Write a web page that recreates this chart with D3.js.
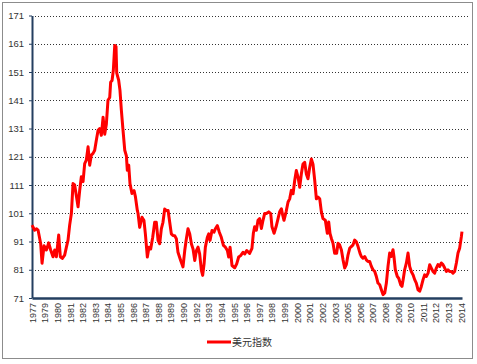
<!DOCTYPE html>
<html>
<head>
<meta charset="utf-8">
<script src="https://cdn.jsdelivr.net/npm/d3@7"></script>
<style>
  body { margin: 0; background: #fff; }
  text { font-family: "Liberation Sans", Arial, sans-serif; }
</style>
</head>
<body>
<svg id="chart" width="477" height="364"></svg>
<script>
// y axis ticks
var yTicks = [71, 81, 91, 101, 111, 121, 131, 141, 151, 161, 171];

// category labels on x axis (every 13 months, starting Dec 1977)
var xTickLabels = ["1977","1979","1980","1981","1982","1983","1984","1985","1986","1987","1988",
  "1989","1990","1992","1993","1994","1995","1996","1997","1998","1999","2000","2001","2002",
  "2003","2005","2006","2007","2008","2009","2010","2011","2012","2013","2014"];

var seriesName = "美元指数";

// time (decimal year) and index value
var dates = [
  1977.92,1978.15,1978.29,1978.44,1978.66,1978.78,1978.95,1979.15,1979.35,1979.52,1979.72,1979.87,
  1980.01,1980.21,1980.35,1980.52,1980.72,1980.87,1981.01,1981.15,1981.30,1981.44,1981.58,1981.73,
  1981.87,1982.01,1982.15,1982.30,1982.44,1982.58,1982.73,1982.87,1983.01,1983.16,1983.30,1983.44,
  1983.59,1983.73,1983.87,1984.02,1984.16,1984.30,1984.44,1984.59,1984.67,1984.79,1984.90,1985.02,
  1985.13,1985.19,1985.36,1985.47,1985.59,1985.73,1985.88,1986.02,1986.10,1986.22,1986.33,1986.50,
  1986.68,1986.79,1986.96,1987.02,1987.16,1987.36,1987.53,1987.65,1987.82,1987.96,1988.11,1988.28,
  1988.45,1988.59,1988.74,1988.88,1989.02,1989.16,1989.31,1989.45,1989.60,1989.74,1989.88,1990.02,
  1990.17,1990.31,1990.45,1990.68,1990.88,1991.03,1991.17,1991.31,1991.46,1991.60,1991.74,1991.89,
  1992.03,1992.17,1992.31,1992.46,1992.57,1992.69,1992.80,1992.97,1993.09,1993.20,1993.37,1993.54,
  1993.66,1993.83,1994.00,1994.17,1994.35,1994.52,1994.69,1994.80,1994.92,1995.09,1995.32,1995.49,
  1995.66,1995.83,1996.03,1996.18,1996.35,1996.60,1996.80,1996.92,1997.03,1997.18,1997.32,1997.46,
  1997.61,1997.75,1997.89,1998.04,1998.24,1998.41,1998.52,1998.70,1998.87,1999.04,1999.18,1999.33,
  1999.44,1999.55,1999.73,1999.90,2000.04,2000.18,2000.33,2000.47,2000.61,2000.76,2000.90,2001.04,
  2001.18,2001.33,2001.47,2001.61,2001.76,2001.90,2002.04,2002.19,2002.33,2002.47,2002.62,2002.76,
  2002.90,2003.10,2003.27,2003.39,2003.50,2003.62,2003.76,2003.90,2004.07,2004.19,2004.33,2004.48,
  2004.62,2004.76,2004.90,2005.05,2005.19,2005.33,2005.48,2005.62,2005.76,2005.91,2006.08,2006.19,
  2006.33,2006.48,2006.62,2006.76,2006.91,2007.05,2007.19,2007.34,2007.48,2007.62,2007.77,2007.91,
  2008.05,2008.20,2008.34,2008.48,2008.62,2008.77,2008.91,2008.99,2009.11,2009.28,2009.40,2009.57,
  2009.68,2009.80,2009.91,2010.06,2010.20,2010.34,2010.48,2010.63,2010.77,2010.91,2011.06,2011.20,
  2011.34,2011.49,2011.63,2011.77,2011.92,2012.06,2012.20,2012.34,2012.49,2012.63,2012.77,2012.92,
  2013.06,2013.20,2013.35,2013.49,2013.63,2013.77,2013.92,2014.06,2014.20,2014.35,2014.49,2014.63,
  2014.78,2014.83
];
var values = [
  96.8,95,95.5,95,90.3,83.3,89.5,88,90.5,88,85.6,88,
  85.6,93.3,85.6,85,86.2,89,91.5,96.8,101,111.5,111,107,
  103.3,109,113.9,112.2,118.6,119.8,124.5,118,121.6,122.2,123.3,126.8,
  130.4,131,128.6,135,129,132.5,141,142,147.4,148,151.6,160.4,
  160,150.7,148,144.5,137.4,130.4,123.3,121.3,116.2,118,111.5,108,
  109,107,102,101,96,99.6,98.4,93.7,85.5,89,88.4,92.5,
  97.8,97.8,91.4,90.2,95.5,97.8,102.5,102,102,97.8,93.7,93.1,
  93,92,87.2,84.3,82,87.8,92,95.5,93.7,90.2,88.4,84.3,
  87.8,89,86.6,80.8,79,83.1,89,92.5,93.7,91.4,94.9,94.3,
  95.5,96.6,94.3,92.5,89.6,89,87.8,85.5,89,82.5,81.7,83.1,
  85.5,86,87.2,86.6,87.8,86.8,88.6,93.9,96.2,95,98.5,99.1,
  95.6,98.5,100.9,100.9,101.5,100.9,96.2,93.9,96.2,99.1,101.5,102.6,
  100.3,98.5,101.5,105,106.1,109.1,107.9,112.6,116.1,113.7,110.2,114.9,
  118.4,119,114.9,113.2,117.3,120.2,118.4,112.6,106.1,106.7,106.1,101.5,
  99.1,98.5,93.9,97.9,93.9,92.1,90.4,86.8,86.8,90.4,89.8,88,
  84.5,81.6,82.8,86.3,88.6,89.2,89.8,91.5,90.9,89.2,86.8,85.7,
  85.1,85.7,84.5,83.9,83.9,82.2,81,80.4,78.6,76.3,75.7,73.9,
  72.2,72.8,76.3,82.2,86.9,85.7,88.1,85.7,81,78.6,78,75.7,
  75.1,78,81,83.4,86.9,82.2,80.4,79.2,77.5,76.3,73.9,73.4,
  75.1,77.5,79.2,78.6,79.8,82.8,81.6,80.4,79.8,81.6,82.8,82.2,
  83.4,82.8,81.6,80.4,81,80.4,80.4,79.8,80.4,83.4,86.9,88.6,
  92.8,94.5
];

var svg = d3.select("#chart");

// outer frame
svg.append("rect")
  .attr("x", 2.5).attr("y", 2.5)
  .attr("width", 470).attr("height", 356)
  .attr("fill", "none")
  .attr("stroke", "#8c8c8c")
  .attr("stroke-width", 1);

var plotLeft = 32, plotRight = 462, plotTop = 15.5, plotBottom = 298;
var startT = 1977.917;

var x = d3.scaleLinear().domain([startT, 2014.833]).range([plotLeft, plotRight]);
var y = d3.scaleLinear().domain([71, 171]).range([plotBottom, plotTop]);

// dotted gridlines
svg.append("g")
  .selectAll("line")
  .data(yTicks.slice(1))
  .enter().append("line")
  .attr("x1", plotLeft).attr("x2", 470)
  .attr("y1", function (d) { return Math.round(y(d)) + 0.5; })
  .attr("y2", function (d) { return Math.round(y(d)) + 0.5; })
  .attr("stroke", "#333")
  .attr("stroke-width", 1)
  .attr("stroke-dasharray", "1,2");

// y axis
var yAxis = svg.append("g")
  .attr("transform", "translate(" + plotLeft + ",0)")
  .call(d3.axisLeft(y).tickValues(yTicks).tickSize(3).tickSizeOuter(0).tickPadding(5));
yAxis.select(".domain").attr("stroke", "#243f60").attr("stroke-width", 2);
yAxis.selectAll(".tick line").attr("stroke", "#243f60");
yAxis.selectAll("text")
  .attr("fill", "#333")
  .style("font-size", "9.5px")
  .style("font-family", "'Liberation Sans', Arial, sans-serif");

// x axis, a label every 13 months
var tickTs = xTickLabels.map(function (d, i) { return startT + i * 13 / 12; });
var xAxis = svg.append("g")
  .attr("transform", "translate(0," + plotBottom + ")")
  .call(d3.axisBottom(x).tickValues(tickTs).tickSize(0).tickSizeOuter(0)
    .tickFormat(function (d, i) { return xTickLabels[i]; }));
xAxis.select(".domain").attr("stroke", "#243f60").attr("stroke-width", 2.5);
xAxis.selectAll("text")
  .attr("transform", "rotate(-90)")
  .attr("x", -5)
  .attr("y", 0)
  .attr("dy", "0.35em")
  .attr("text-anchor", "end")
  .attr("fill", "#333")
  .style("font-size", "9px")
  .style("font-family", "'Liberation Sans', Arial, sans-serif");

// the line
var data = dates.map(function (d, i) { return [d, values[i]]; });
var line = d3.line()
  .x(function (d) { return x(d[0]); })
  .y(function (d) { return y(d[1]); });

svg.append("path")
  .datum(data)
  .attr("d", line)
  .attr("fill", "none")
  .attr("stroke", "#ff0000")
  .attr("stroke-width", 3)
  .attr("stroke-linejoin", "round");

// legend
var legend = svg.append("g").attr("transform", "translate(207,342)");
legend.append("line")
  .attr("x1", 0).attr("x2", 24)
  .attr("y1", 0).attr("y2", 0)
  .attr("stroke", "#ff0000")
  .attr("stroke-width", 3);
legend.append("text")
  .attr("x", 25).attr("y", 4)
  .attr("fill", "#333")
  .style("font-size", "10px")
  .style("font-family", "'Noto Sans CJK SC', sans-serif")
  .text(seriesName);
</script>
</body>
</html>
